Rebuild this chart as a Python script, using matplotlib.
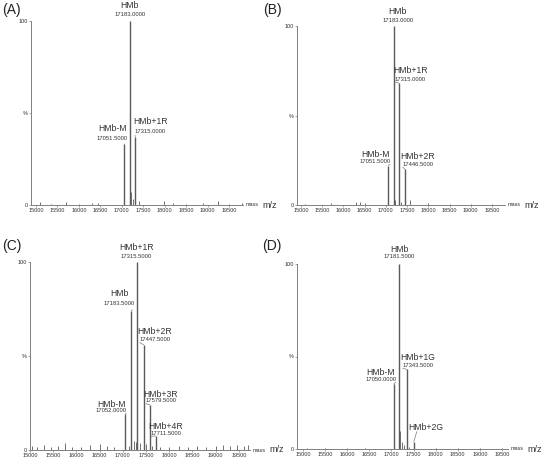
import matplotlib
matplotlib.use("Agg")
import matplotlib.pyplot as plt

plt.rcParams['font.family'] = ['Liberation Sans', 'DejaVu Sans']

# ---------------- data ----------------
# Panel A
a_names = ["HMb", "HMb-M", "HMb+1R"]
a_mass = [17183.0, 17051.5, 17315.0]
a_int = [100, 33, 37]
a_noise_mass = [15100, 15350, 15700, 16000, 16300, 16450, 17210, 17260, 17400, 17980, 18200, 18500, 18900, 19250, 19500, 19800]
a_noise_int = [1.5, 0.8, 1.5, 0.8, 1.0, 1.2, 7, 3, 2, 2, 1, 0.8, 1.2, 2, 0.8, 1.0]

# Panel B
b_names = ["HMb", "HMb+1R", "HMb-M", "HMb+2R"]
b_mass = [17183.0, 17315.0, 17051.5, 17446.5]
b_int = [100, 68, 22, 20]
b_noise_mass = [15100, 15700, 16300, 16400, 16500, 17210, 17350, 17560, 18000, 18500, 19000, 19500]
b_noise_int = [0.8, 1.0, 1.5, 1.5, 1.2, 3, 1.5, 3, 1.0, 0.8, 0.8, 0.8]

# Panel C
c_names = ["HMb+1R", "HMb", "HMb+2R", "HMb+3R", "HMb+4R", "HMb-M"]
c_mass = [17315.5, 17183.5, 17447.5, 17579.5, 17711.5, 17052.0]
c_int = [100, 74, 56, 24, 7.5, 19]
c_noise_mass = [15050, 15150, 15300, 15450, 15600, 15750, 15900, 16100, 16300, 16500, 16650, 16800, 17130, 17250, 17280, 17380, 17500, 17620, 17800, 18000, 18200, 18400, 18600, 18800, 19000, 19150, 19300, 19450, 19600, 19700]
c_noise_int = [2, 1.5, 2.5, 1.5, 2, 3.5, 1.5, 1.5, 2.5, 3, 2, 1.5, 2, 5, 4, 3.5, 3, 2, 1.5, 1.5, 2, 1.5, 2, 1.5, 2, 2.5, 2, 2.5, 2, 2.5]

# Panel D
d_names = ["HMb", "HMb+1G", "HMb-M", "HMb+2G"]
d_mass = [17181.5, 17343.5, 17050.0, 17505.5]
d_int = [100, 43, 35, 4]
d_show_num = [True, True, True, False]
d_noise_mass = [15100, 15500, 16000, 16400, 17200, 17240, 17290, 17400, 18000, 18500, 19000, 19500]
d_noise_int = [0.8, 0.6, 0.6, 0.8, 10, 4, 2, 1.2, 0.6, 0.6, 0.6, 0.6]

x_ticks = [15000, 15500, 16000, 16500, 17000, 17500, 18000, 18500, 19000, 19500]
panel_labels = ["(A)", "(B)", "(C)", "(D)"]

# ---------------- layout (pixels) ----------------
W, H = 550, 462
fig = plt.figure(figsize=(5.5, 4.62), dpi=100)

# left, right, top, bottom in pixels; xlim
rects = [
    (31, 243, 21, 205, (14883, 19826)),
    (297, 505, 26, 205, (14906, 19807)),
    (30, 250, 262, 450, (15000, 19740)),
    (297, 508, 264, 449, (14864, 19636)),
]

# label offsets (pixels) relative to peak top: (dx, dy_name, dy_num)
offs = [
    [(0, 15, 7), (-12, 16, 6), (15, 15, 5)],
    [(4, 14, 6), (11, 13, 4), (-13, 11, 4), (13, 13, 5)],
    [(-1, 14, 6), (-12, 17, 7), (11, 13, 5), (11, 10, 4), (10, 9, 2), (-14, 10, 4)],
    [(0, 14, 7), (11, 12, 4), (-13, 12, 5), (12, 14, 0)],
]
label_pos = [(11, 10), (272, 10), (12, 246), (272, 246)]

panels = [
    (a_names, a_mass, a_int, [True] * 3, a_noise_mass, a_noise_int),
    (b_names, b_mass, b_int, [True] * 4, b_noise_mass, b_noise_int),
    (c_names, c_mass, c_int, [True] * 6, c_noise_mass, c_noise_int),
    (d_names, d_mass, d_int, d_show_num, d_noise_mass, d_noise_int),
]

peak_c = "#5a5a5a"
axis_c = "#808080"
text_c = "#333333"

for i, (names, mass, inten, shownum, nm, ni) in enumerate(panels):
    l, r, t, b, xl = rects[i]
    ax = fig.add_axes([l / W, (H - b) / H, (r - l) / W, (b - t) / H])
    ax.set_xlim(*xl)
    ax.set_ylim(0, 100)
    for s in ["top", "right"]:
        ax.spines[s].set_visible(False)
    for s in ["left", "bottom"]:
        ax.spines[s].set_color(axis_c)
        ax.spines[s].set_linewidth(0.7)
    ax.vlines(nm, 0, ni, color=peak_c, lw=0.6)
    ax.vlines(mass, 0, inten, color=peak_c, lw=1.0)
    ax.set_xticks(x_ticks)
    ax.set_xticklabels([str(v) for v in x_ticks], fontsize=4, color=text_c)
    ax.set_yticks([0, 50, 100])
    ax.set_yticklabels(["0", "%", "100"], fontsize=4, color=text_c)
    ax.tick_params(length=1.5, width=0.5, color=axis_c, pad=1)
    ax.patch.set_alpha(0)

    for j, (nmn, m, it) in enumerate(zip(names, mass, inten)):
        dx, dyn, dyv = offs[i][j]
        ax.annotate(nmn, xy=(m, it), xytext=(dx, dyn), textcoords="offset pixels",
                    ha="center", va="center", fontsize=6.2, color=text_c,
                    annotation_clip=False)
        if shownum[j]:
            if abs(dx) < 6:
                ap = None
            else:
                ap = dict(arrowstyle="-", color="#777777", lw=0.5,
                          shrinkA=0.5, shrinkB=0,
                          relpos=(1.0, 0.0) if dx < 0 else (0.0, 0.0))
            ax.annotate(f"{m:.4f}", xy=(m, it), xytext=(dx, dyv), textcoords="offset pixels",
                        ha="center", va="center", fontsize=4.2, color=text_c,
                        annotation_clip=False, arrowprops=ap)
        else:
            ax.annotate("", xy=(m, it), xytext=(dx - 9, dyn - 4), textcoords="offset pixels",
                        annotation_clip=False,
                        arrowprops=dict(arrowstyle="-", color="#777777", lw=0.5,
                                        shrinkA=0, shrinkB=0))

    ax.annotate("mass", xy=(1, 0), xycoords="axes fraction", xytext=(3, 0),
                textcoords="offset pixels", ha="left", va="center", fontsize=4, color=text_c)
    ax.annotate("m/z", xy=(1, 0), xycoords="axes fraction", xytext=(19, 0),
                textcoords="offset pixels", ha="left", va="center", fontsize=6.5, color=text_c)

    px, py = label_pos[i]
    fig.text(px / W, 1 - py / H, panel_labels[i], ha="center", va="center",
             fontsize=10, color="#222222")

fig.savefig("out.png", dpi=100, facecolor="white")
